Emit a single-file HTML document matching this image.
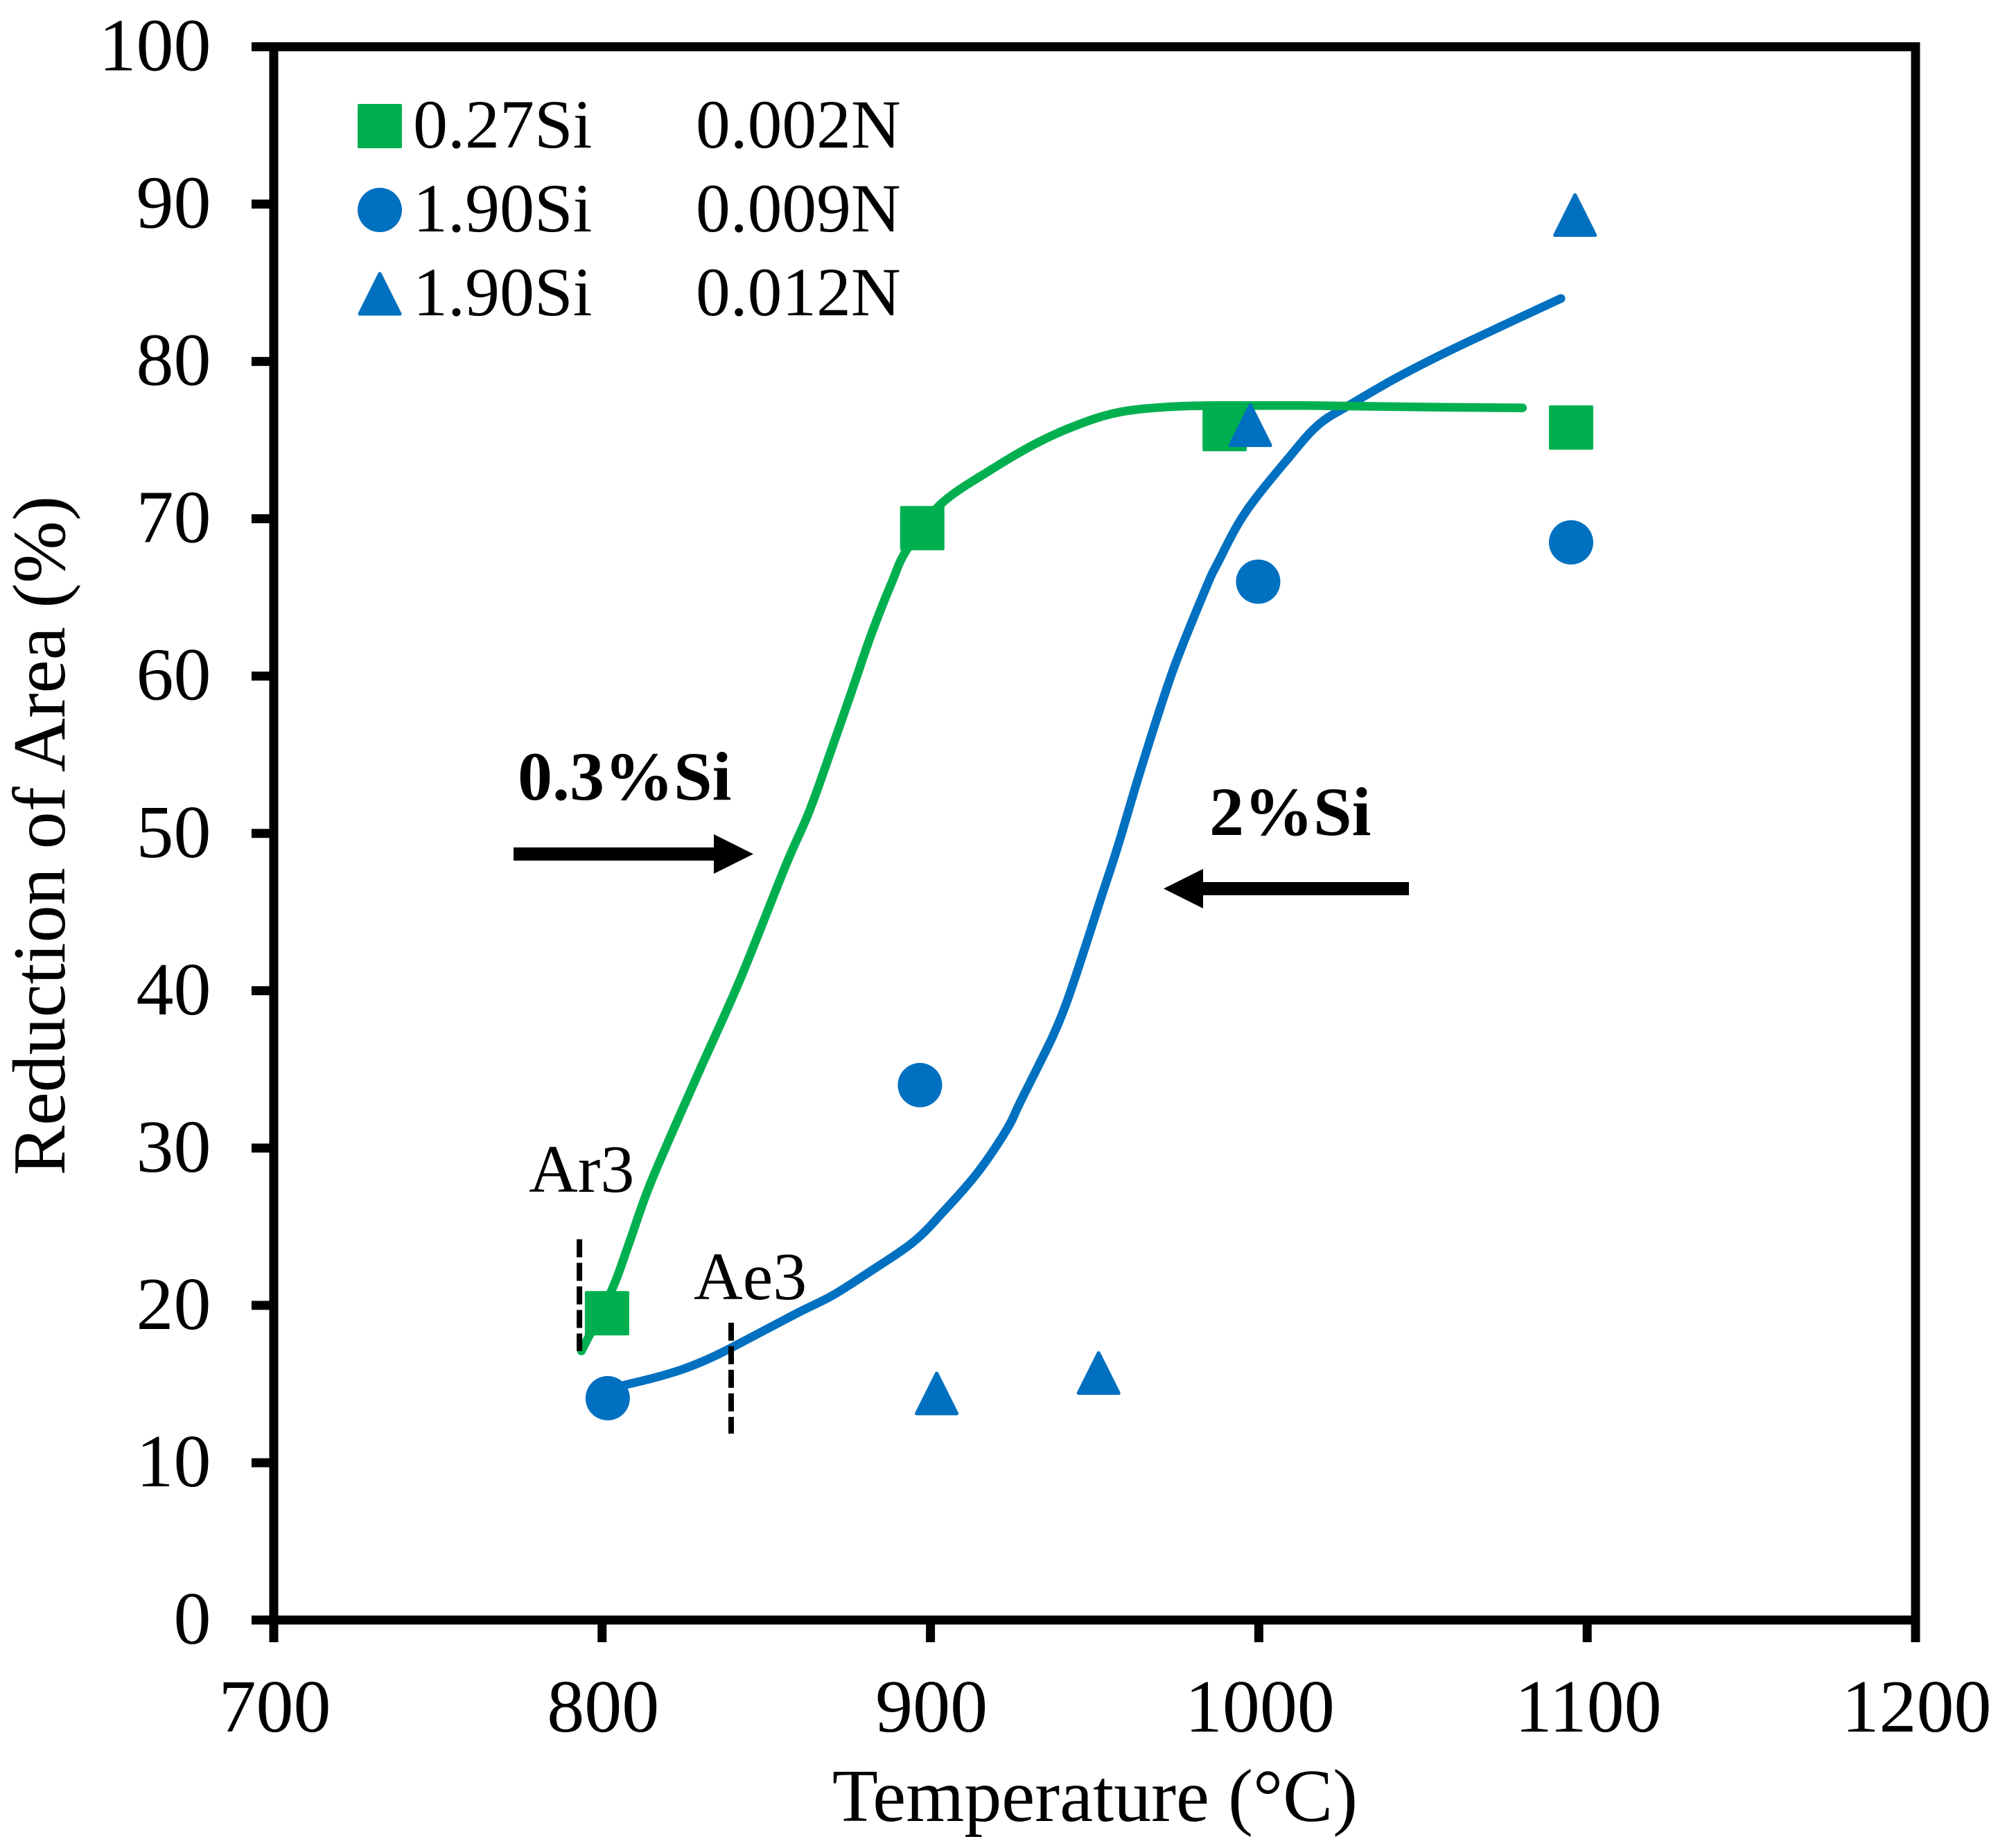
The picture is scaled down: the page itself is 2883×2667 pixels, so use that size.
<!DOCTYPE html>
<html lang="en">
<head>
<meta charset="utf-8">
<title>Reduction of Area vs Temperature</title>
<style>
html,body{margin:0;padding:0;background:#fff;}
svg{display:block;}
text{font-family:"Liberation Serif","Times New Roman",serif;fill:#000;}
</style>
</head>
<body>
<svg id="chart" xmlns="http://www.w3.org/2000/svg" width="2883" height="2667" viewBox="0 0 2883 2667">
  <rect x="0" y="0" width="2883" height="2667" fill="#ffffff"/>
  <g id="curves"></g>
  <g id="refs"></g>
  <g id="markers"></g>
  <g id="axes"></g>

  <text x="1580" y="2628" font-size="108" text-anchor="middle">Temperature (°C)</text>
  <text x="93" y="1206" font-size="108" text-anchor="middle" transform="rotate(-90 93 1206)">Reduction of Area (%)</text>

  <g>
    <rect x="518" y="152" width="60" height="60" fill="#00B050" stroke="#00B050" stroke-width="4" stroke-linejoin="round"/>
    <text x="596" y="213" font-size="100">0.27Si</text>
    <text x="1004" y="213" font-size="99.5">0.002N</text>
    <circle cx="548" cy="303" r="32" fill="#0070C0"/>
    <text x="596" y="334" font-size="100">1.90Si</text>
    <text x="1004" y="334" font-size="99.5">0.009N</text>
    <polygon points="548,395 577,453 519,453" fill="#0070C0" stroke="#0070C0" stroke-width="5" stroke-linejoin="round"/>
    <text x="596" y="455" font-size="100">1.90Si</text>
    <text x="1004" y="455" font-size="99.5">0.012N</text>
  </g>

  <text x="763" y="1720" font-size="98">Ar3</text>
  <text x="1001" y="1875" font-size="98">Ae3</text>

  <text x="747" y="1154" font-size="100" font-weight="bold">0.3%Si</text>
  <polygon points="741,1223 1030,1223 1030,1204 1087,1232.5 1030,1261 1030,1242 741,1242" fill="#000"/>
  <text x="1745" y="1205" font-size="100" font-weight="bold">2%Si</text>
  <polygon points="2033,1273 1736,1273 1736,1254 1679,1282.5 1736,1311 1736,1292 2033,1292" fill="#000"/>
</svg>

<script>
const xTickLabels = [700, 800, 900, 1000, 1100, 1200];
const yTickLabels = [0, 10, 20, 30, 40, 50, 60, 70, 80, 90, 100];

const greenCurveTemp = [793.7, 803, 808.3, 815, 829.2, 841.8, 855.8, 862.9, 869.3, 875.8, 881.9, 888.3, 892.7, 903, 919.1, 933.2, 946.5, 958.1, 971.8, 986, 1014, 1049.3, 1080.3];
const greenCurveArea = [17.1, 21.0, 24.0, 27.9, 34.7, 40.6, 47.9, 51.3, 55.0, 58.9, 62.6, 66.0, 68.0, 70.9, 73.2, 74.9, 76.1, 76.8, 77.1, 77.2, 77.2, 77.1, 77.05];

const blueCurveTemp = [802, 815, 824, 831.3, 839.3, 859.3, 869.9, 880.5, 894.6, 903.7, 914.2, 923.3, 927.3, 936.8, 941, 945.3, 951.8, 957.1, 962.8, 969.1, 974.8, 983.9, 987.5, 995.9, 1009.2, 1018.3, 1028.2, 1042.3, 1056.3, 1070.4, 1092];
const blueCurveArea = [14.7, 15.35, 15.9, 16.5, 17.3, 19.5, 20.6, 22.0, 24.0, 25.9, 28.4, 31.2, 32.9, 36.9, 39.0, 41.6, 45.8, 49.2, 53.2, 57.4, 60.9, 65.6, 67.2, 70.4, 73.9, 76.0, 77.3, 79.0, 80.5, 81.9, 84.0];

const squareTemp = [801.5, 897.5, 989.6, 1095.1];
const squareArea = [19.5, 69.4, 75.7, 75.8];
const circleTemp = [801.7, 896.8, 999.8, 1095.1];
const circleArea = [14.1, 34.0, 66.0, 68.5];
const triangleTemp = [901.9, 951.2, 997.4, 1096.3];
const triangleArea = [14.4, 15.7, 75.95, 89.3];

const refTemp = [793.1, 839.3];
const refAreaLow = [17.1, 11.85];
const refAreaHigh = [24.2, 18.9];

const NS = 'http://www.w3.org/2000/svg';
const plotLeft = 395, plotRight = 2764, plotTop = 67.5, plotBottom = 2338;
const xMin = 700, xMax = 1200, yMin = 0, yMax = 100;
function sx(v) { return plotLeft + (v - xMin) / (xMax - xMin) * (plotRight - plotLeft); }
function sy(v) { return plotBottom - (v - yMin) / (yMax - yMin) * (plotBottom - plotTop); }

function make(tag, parent, attrs) {
  const el = document.createElementNS(NS, tag);
  for (const k in attrs) el.setAttribute(k, attrs[k]);
  parent.appendChild(el);
  return el;
}

function splinePath(temps, areas) {
  const p = temps.map((t, i) => [sx(t), sy(areas[i])]);
  let d = 'M' + p[0][0].toFixed(1) + ' ' + p[0][1].toFixed(1);
  for (let i = 0; i < p.length - 1; i++) {
    const a = p[Math.max(i - 1, 0)], b = p[i], c = p[i + 1], e = p[Math.min(i + 2, p.length - 1)];
    const c1x = b[0] + (c[0] - a[0]) / 6, c1y = b[1] + (c[1] - a[1]) / 6;
    const c2x = c[0] - (e[0] - b[0]) / 6, c2y = c[1] - (e[1] - b[1]) / 6;
    d += 'C' + c1x.toFixed(1) + ' ' + c1y.toFixed(1) + ' ' + c2x.toFixed(1) + ' ' + c2y.toFixed(1) + ' ' + c[0].toFixed(1) + ' ' + c[1].toFixed(1);
  }
  return d;
}

const curves = document.getElementById('curves');
const blueCurve = make('path', curves, { d: splinePath(blueCurveTemp, blueCurveArea), fill: 'none', stroke: '#0070C0', 'stroke-width': 12.5, 'stroke-linecap': 'round', 'stroke-linejoin': 'round' });


const greenCurve = make('path', curves, { d: splinePath(greenCurveTemp, greenCurveArea), fill: 'none', stroke: '#00B050', 'stroke-width': 12.5, 'stroke-linecap': 'round', 'stroke-linejoin': 'round' });



const refs = document.getElementById('refs');
refTemp.forEach((t, i) => {
  const line = make('line', refs, { x1: sx(t), x2: sx(t), y1: sy(refAreaHigh[i]), y2: sy(refAreaLow[i]), stroke: '#000', 'stroke-width': 8, 'stroke-dasharray': '26 8' });
  
  
});

const markers = document.getElementById('markers');
squareTemp.forEach((t, i) => {
  const cx = sx(t), cy = sy(squareArea[i]);
  const m = make('rect', markers, { x: cx - 30, y: cy - 30, width: 60, height: 60, fill: '#00B050', stroke: '#00B050', 'stroke-width': 4, 'stroke-linejoin': 'round' });
  
  
});
circleTemp.forEach((t, i) => {
  const m = make('circle', markers, { cx: sx(t), cy: sy(circleArea[i]), r: 32, fill: '#0070C0' });
  
  
});
triangleTemp.forEach((t, i) => {
  const cx = sx(t), cy = sy(triangleArea[i]);
  const pts = [[cx, cy - 29], [cx + 29, cy + 29], [cx - 29, cy + 29]].map(q => q[0].toFixed(1) + ',' + q[1].toFixed(1)).join(' ');
  const m = make('polygon', markers, { points: pts, fill: '#0070C0', stroke: '#0070C0', 'stroke-width': 5, 'stroke-linejoin': 'round' });
  
  
});

const axes = document.getElementById('axes');
const stroke = { stroke: '#000', 'stroke-width': 13 };
const frameTop = make('line', axes, Object.assign({ x1: 363, x2: 2770.5, y1: sy(yMax), y2: sy(yMax) }, stroke));


const frameBottom = make('line', axes, Object.assign({ x1: 363, x2: 2770.5, y1: sy(yMin), y2: sy(yMin) }, stroke));


const frameLeft = make('line', axes, Object.assign({ x1: sx(xMin), x2: sx(xMin), y1: 61, y2: 2370 }, stroke));


const frameRight = make('line', axes, Object.assign({ x1: sx(xMax), x2: sx(xMax), y1: 61, y2: 2370 }, stroke));



xTickLabels.forEach(v => {
  const tick = make('line', axes, Object.assign({ x1: sx(v), x2: sx(v), y1: plotBottom, y2: 2370 }, stroke));
  
  
  const label = make('text', axes, { x: sx(v) + 1.5, y: 2499, 'font-size': 108, 'text-anchor': 'middle' });
  label.textContent = String(v);
  
  
});
yTickLabels.forEach(v => {
  const tick = make('line', axes, Object.assign({ x1: 363, x2: plotLeft, y1: sy(v), y2: sy(v) }, stroke));
  
  
  const label = make('text', axes, { x: 304.5, y: sy(v) + 34, 'font-size': 108, 'text-anchor': 'end' });
  label.textContent = String(v);
  
  
});
</script>
</body>
</html>
